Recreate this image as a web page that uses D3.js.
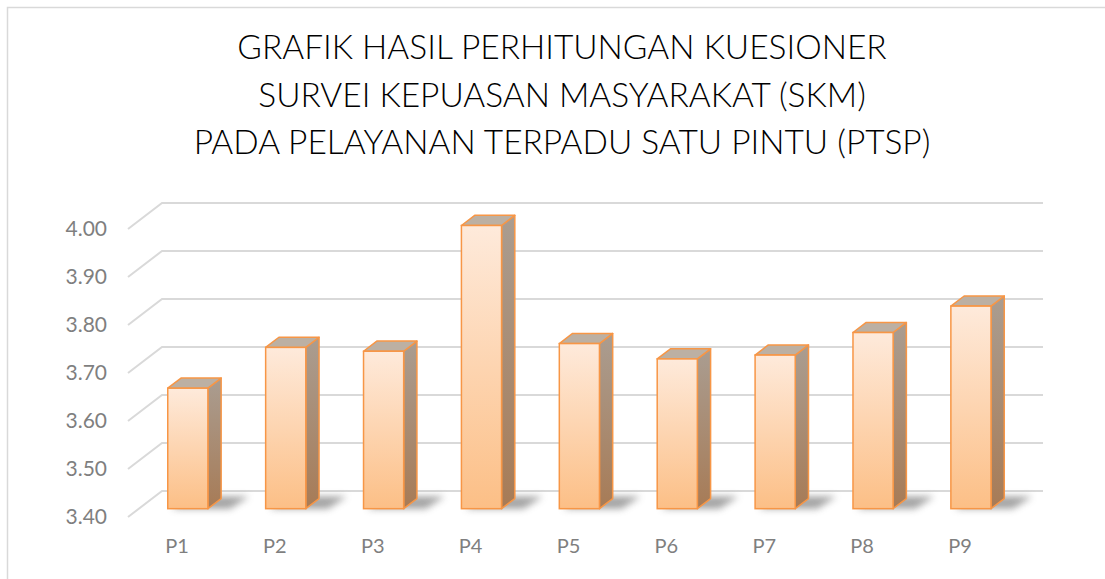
<!DOCTYPE html>
<html>
<head>
<meta charset="utf-8">
<script src="https://cdn.jsdelivr.net/npm/d3@7"></script>
<style>
  body { margin: 0; background: #fff; }
  text { font-family: Lato, "Open Sans", sans-serif; }
</style>
</head>
<body>
<div id="chart"></div>
<script>
// data
const categories = ["P1", "P2", "P3", "P4", "P5", "P6", "P7", "P8", "P9"];
const values = [3.651, 3.736, 3.728, 3.99, 3.744, 3.712, 3.72, 3.767, 3.822];
const yTicks = [3.4, 3.5, 3.6, 3.7, 3.8, 3.9, 4.0];
const titleLines = [
  "GRAFIK HASIL PERHITUNGAN KUESIONER",
  "SURVEI KEPUASAN MASYARAKAT (SKM)",
  "PADA PELAYANAN TERPADU SATU PINTU (PTSP)"
];

const width = 1105, height = 579;
// depth offset of the 3d box (back wall vs front plane)
const DX = 34, DY = 26;
const barD0 = 0.32, barD1 = 0.71;

const svg = d3.select("#chart").append("svg")
  .attr("width", width)
  .attr("height", height);

const defs = svg.append("defs");

const frontGrad = defs.append("linearGradient").attr("id", "frontGrad")
  .attr("x1", 0).attr("y1", 0).attr("x2", 0).attr("y2", 1);
frontGrad.append("stop").attr("offset", "0%").attr("stop-color", "#feeadb");
frontGrad.append("stop").attr("offset", "100%").attr("stop-color", "#fcbf86");

const sideGrad = defs.append("linearGradient").attr("id", "sideGrad")
  .attr("x1", 0).attr("y1", 0).attr("x2", 0).attr("y2", 1);
sideGrad.append("stop").attr("offset", "0%").attr("stop-color", "#aa9d91");
sideGrad.append("stop").attr("offset", "100%").attr("stop-color", "#a77b56");

defs.append("filter").attr("id", "blur")
  .attr("x", "-50%").attr("y", "-100%").attr("width", "200%").attr("height", "300%")
  .append("feGaussianBlur").attr("stdDeviation", 3.5);

//chart area border (left and top edges only are visible)
svg.append("path")
  .attr("d", `M7.5,${height} L7.5,7.5 L${width},7.5`)
  .attr("fill", "none")
  .attr("stroke", "#d9d9d9")
  .attr("stroke-width", 1.5);

//scales on the front plane
const x = d3.scaleBand().domain(categories).range([128, 1009]);
const y = d3.scaleLinear().domain([3.4, 4.0]).range([517, 229]);
const barW = x.bandwidth() * 0.41;

//gridlines: short diagonal on the side wall + line along the back wall
const grid = svg.append("g");
yTicks.forEach((t) => {
  grid.append("path")
    .attr("d", `M${x.range()[0]},${y(t)} L${x.range()[0] + DX},${y(t) - DY} L${x.range()[1] + DX},${y(t) - DY}`)
    .attr("fill", "none")
    .attr("stroke", "#d9d9d9")
    .attr("stroke-width", 2);
});

//y axis labels
svg.append("g").selectAll("text")
  .data(yTicks)
  .join("text")
  .attr("x", 107)
  .attr("y", (d) => y(d) + 2)
  .attr("text-anchor", "end")
  .attr("dominant-baseline", "middle")
  .attr("fill", "#7f7f7f")
  .style("font-size", "21px")
  .text((d) => d3.format(".2f")(d));

//x axis labels
svg.append("g").selectAll("text")
  .data(categories)
  .join("text")
  .attr("x", (d) => x(d) + x.bandwidth() / 2)
  .attr("y", 548)
  .attr("text-anchor", "middle")
  .attr("dominant-baseline", "middle")
  .attr("fill", "#7f7f7f")
  .style("font-size", "20px")
  .text((d) => d);

//bars
const bars = svg.append("g").selectAll("g")
  .data(categories.map((c, i) => ({ key: c, value: values[i] })))
  .join("g");

const px = (d, side, depth) => x(d.key) + x.bandwidth() / 2 + side * barW / 2 + depth * DX;
const py = (v, depth) => y(v) - depth * DY;

//floor shadow
bars.append("path")
  .attr("d", (d) => {
    const b = 3.4;
    return `M${px(d, -1, barD0) + 4},${py(b, barD0)}` +
      `L${px(d, 1, barD0) + 22},${py(b, barD0)}` +
      `L${px(d, 1, barD1) + 28},${py(b, barD1) - 2}` +
      `L${px(d, -1, barD1) + 6},${py(b, barD1) - 2}Z`;
  })
  .attr("fill", "#595959")
  .attr("opacity", 0.55)
  .attr("filter", "url(#blur)");

//side face
bars.append("path")
  .attr("d", (d) =>
    `M${px(d, 1, barD0)},${py(3.4, barD0)}` +
    `L${px(d, 1, barD1)},${py(3.4, barD1)}` +
    `L${px(d, 1, barD1)},${py(d.value, barD1)}` +
    `L${px(d, 1, barD0)},${py(d.value, barD0)}Z`)
  .attr("fill", "url(#sideGrad)")
  .attr("stroke", "#f79646")
  .attr("stroke-width", 1.5)
  .attr("stroke-linejoin", "round");

//top face
bars.append("path")
  .attr("d", (d) =>
    `M${px(d, -1, barD0)},${py(d.value, barD0)}` +
    `L${px(d, 1, barD0)},${py(d.value, barD0)}` +
    `L${px(d, 1, barD1)},${py(d.value, barD1)}` +
    `L${px(d, -1, barD1)},${py(d.value, barD1)}Z`)
  .attr("fill", "#bcb0a3")
  .attr("stroke", "#f79646")
  .attr("stroke-width", 1.5)
  .attr("stroke-linejoin", "round");

//front face
bars.append("rect")
  .attr("x", (d) => px(d, -1, barD0))
  .attr("y", (d) => py(d.value, barD0))
  .attr("width", barW)
  .attr("height", (d) => py(3.4, barD0) - py(d.value, barD0))
  .attr("fill", "url(#frontGrad)")
  .attr("stroke", "#f79646")
  .attr("stroke-width", 1.5);

//title, font size fitted to the longest line width
const title = svg.append("g");
const titleText = title.selectAll("text")
  .data(titleLines)
  .join("text")
  .attr("x", 562)
  .attr("y", (d, i) => 51 + i * 47.5)
  .attr("text-anchor", "middle")
  .attr("dominant-baseline", "middle")
  .attr("fill", "#000")
  .style("font-size", "30px")
  .style("font-weight", 300)
  .text((d) => d);
const longest = titleText.nodes()[2].getComputedTextLength();
titleText.style("font-size", (30 * 737 / longest) + "px");
</script>
</body>
</html>
